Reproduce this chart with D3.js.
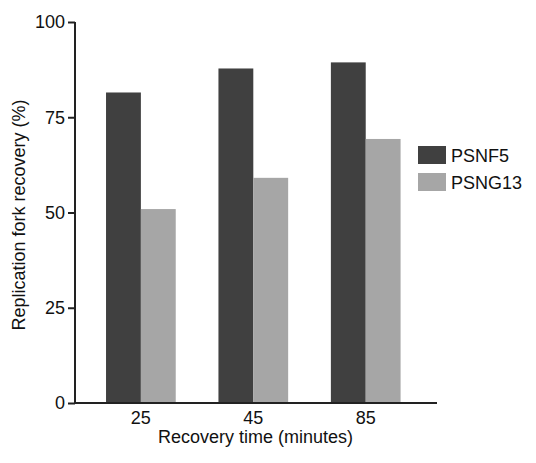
<!DOCTYPE html>
<html>
<head>
<meta charset="utf-8">
<script src="https://cdn.jsdelivr.net/npm/d3@7"></script>
<style>
  body { margin: 0; background: #fff; }
  text { font-family: "Liberation Sans", Arial, sans-serif; fill: #111; }
</style>
</head>
<body>
<svg id="chart" width="536" height="463"></svg>
<script>
// data
const times = ['25', '45', '85'];
const series = ['PSNF5', 'PSNG13'];
const psnf5 = [81.5, 87.8, 89.4];
const psng13 = [50.9, 59.1, 69.3];
const yTicks = [0, 25, 50, 75, 100];
const colors = ['#404040', '#a6a6a6'];

const svg = d3.select('#chart');
const x0 = 75, x1 = 437, yTop = 22, yBot = 403;
const fs = '18px';

let x = d3.scaleBand().domain(times).range([x0, x1])
  .paddingInner(0.38).paddingOuter(0.3).align(0.46);
let xs = d3.scaleBand().domain(series).range([0, x.bandwidth()]);
let y = d3.scaleLinear().domain([0, 100]).range([yBot, yTop]);
let color = d3.scaleOrdinal().domain(series).range(colors);

const rows = times.map((t, i) => ({ t, vals: [psnf5[i], psng13[i]] }));

svg.selectAll('g.grp')
  .data(rows)
  .enter()
  .append('g')
  .attr('class', 'grp')
  .attr('transform', d => 'translate(' + x(d.t) + ',0)')
  .selectAll('rect')
  .data(d => d.vals.map((v, j) => ({ s: series[j], v })))
  .enter()
  .append('rect')
  .attr('x', d => xs(d.s))
  .attr('width', xs.bandwidth())
  .attr('y', d => y(d.v))
  .attr('height', d => yBot - y(d.v))
  .attr('fill', d => color(d.s));

// y axis
const yAxis = svg.append('g')
  .attr('transform', 'translate(' + x0 + ',0)')
  .call(d3.axisLeft(y).tickValues(yTicks).tickSize(7).tickPadding(3));
yAxis.select('.domain').attr('stroke', '#222').attr('stroke-width', 2)
  .attr('d', 'M0,' + yTop + 'V' + yBot);
yAxis.selectAll('.tick line').attr('stroke', '#222').attr('stroke-width', 2);
yAxis.selectAll('.tick text').style('font-size', fs)
  .style('font-family', '"Liberation Sans", Arial, sans-serif').attr('fill', '#111');

// x axis
const xAxis = svg.append('g')
  .attr('transform', 'translate(0,' + yBot + ')')
  .call(d3.axisBottom(x).tickSize(0).tickPadding(8));
xAxis.select('.domain').attr('stroke', '#222').attr('stroke-width', 2)
  .attr('d', 'M' + (x0 - 1) + ',0H' + x1);
xAxis.selectAll('.tick text').style('font-size', fs)
  .style('font-family', '"Liberation Sans", Arial, sans-serif').attr('fill', '#111');

// titles
svg.append('text')
  .attr('x', (x0 + x1) / 2 - 0.5)
  .attr('y', 443)
  .attr('text-anchor', 'middle')
  .style('font-size', fs)
  .text('Recovery time (minutes)');

svg.append('text')
  .attr('transform', 'translate(25,215) rotate(-90)')
  .attr('text-anchor', 'middle')
  .style('font-size', fs)
  .text('Replication fork recovery (%)');

// legend
const legend = svg.selectAll('.legend')
  .data(series)
  .enter()
  .append('g')
  .attr('class', 'legend')
  .attr('transform', (d, i) => 'translate(418,' + (146 + i * 27) + ')');
legend.append('rect')
  .attr('width', 28)
  .attr('height', 18)
  .attr('fill', d => color(d));
legend.append('text')
  .attr('x', 33)
  .attr('y', 16)
  .style('font-size', fs)
  .text(d => d);
</script>
</body>
</html>
